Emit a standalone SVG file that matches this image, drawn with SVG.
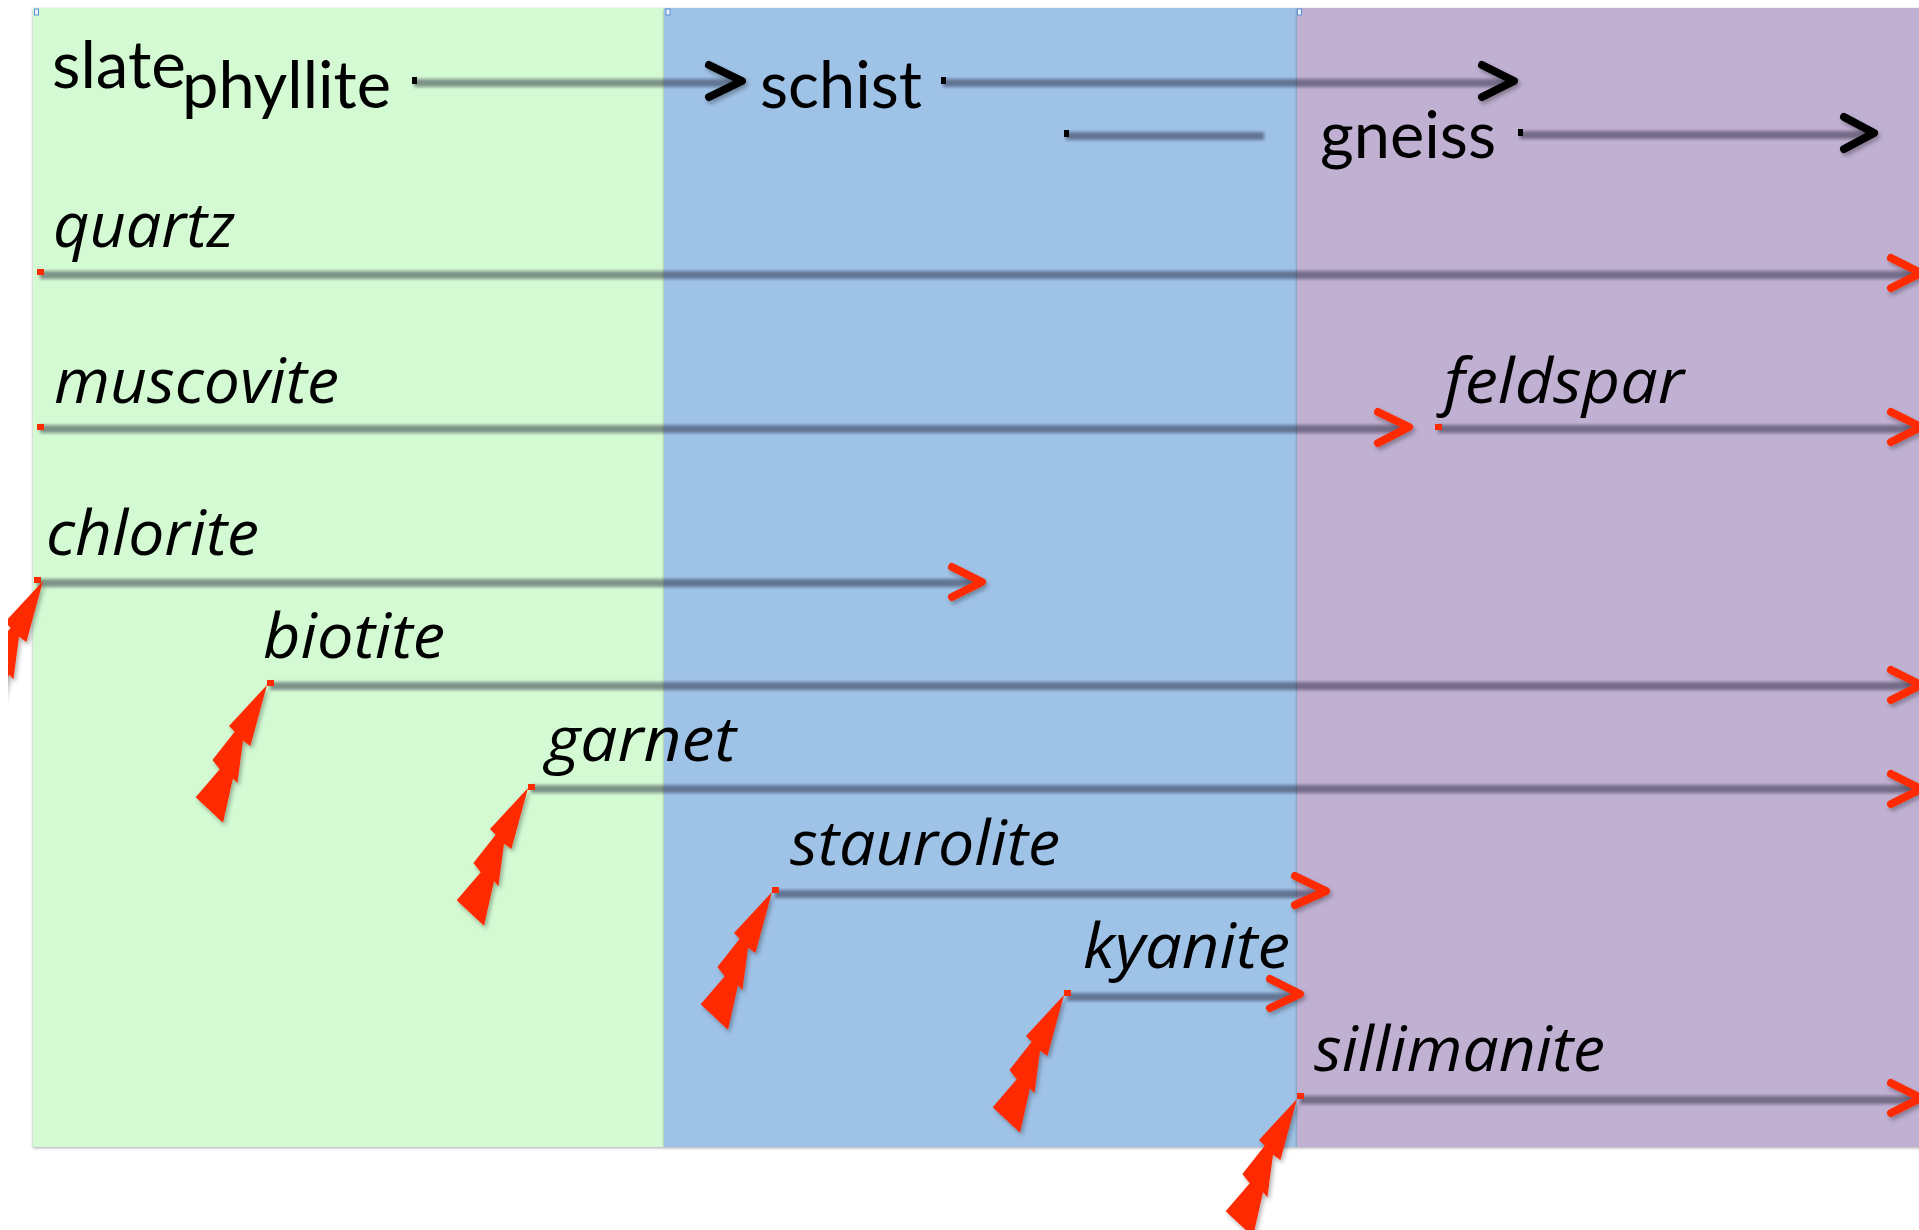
<svg xmlns="http://www.w3.org/2000/svg" width="1919" height="1230" viewBox="0 0 1919 1230">
<style>
.up{font-family:Lato,"Open Sans","Liberation Sans",sans-serif;font-size:66px;fill:#000}
.it{font-family:"Open Sans","Noto Sans","Liberation Sans",sans-serif;font-style:italic;font-size:62px;fill:#000}
.band{stroke:#1a1a2a;stroke-opacity:0.45;stroke-width:8;fill:none}
.rch{stroke:#ff2a00;stroke-width:8;fill:none;stroke-linecap:round;stroke-linejoin:round}
.bch{stroke:#000;stroke-width:8;fill:none;stroke-linecap:round;stroke-linejoin:round}
.rdot{fill:#ff2a00}
.bdot{fill:#000}
.bolt{fill:#ff2a00}
.handle{fill:#eef4fc;stroke:#5b8fd0;stroke-width:1}
</style>
<defs>
<filter id="rectSh" filterUnits="userSpaceOnUse" x="-20" y="-20" width="1960" height="1270">
<feDropShadow dx="0" dy="1" stdDeviation="1.6" flood-color="#000" flood-opacity="0.35"/>
</filter>
<filter id="blur" filterUnits="userSpaceOnUse" x="0" y="0" width="1919" height="1230">
<feGaussianBlur stdDeviation="1.7"/>
</filter>
<filter id="sh" filterUnits="userSpaceOnUse" x="-50" y="-50" width="2020" height="1330">
<feDropShadow dx="2" dy="3" stdDeviation="2" flood-color="#000" flood-opacity="0.3"/>
</filter>
<clipPath id="leftClip"><rect x="8" y="0" width="1911" height="1230"/></clipPath>
</defs>
<rect width="1919" height="1230" fill="#fff"/>

<g id="zones">
<rect id="zone-green" x="33" y="8" width="631" height="1139" fill="#d3fad3" filter="url(#rectSh)"/>
<rect id="zone-blue" x="664" y="8" width="633" height="1139" fill="#9fc2e7" filter="url(#rectSh)"/>
<rect id="zone-purple" x="1297" y="8" width="640" height="1139" fill="#c0b0d2" filter="url(#rectSh)"/>
<rect class="handle" x="34.5" y="9" width="4" height="6"/>
<rect class="handle" x="666" y="9" width="4" height="6"/>
<rect class="handle" x="1297.5" y="9" width="4" height="6"/>
</g>

<g id="connectors">
<g filter="url(#blur)">
<path class="band" d="M414,83 H738"/>
<path class="band" d="M943,83 H1510"/>
<path class="band" d="M1066,136 H1264"/>
<path class="band" d="M1520,135 H1870"/>
<path class="band" d="M40,275 H1915"/>
<path class="band" d="M40,429 H1405"/>
<path class="band" d="M1438,429 H1915"/>
<path class="band" d="M37,583 H978"/>
<path class="band" d="M270,686 H1915"/>
<path class="band" d="M531,789 H1915"/>
<path class="band" d="M775,894 H1322"/>
<path class="band" d="M1067,997 H1296"/>
<path class="band" d="M1300,1100 H1915"/>
</g>
<g filter="url(#sh)">
<path class="bch" d="M709,65 L742,81 L709,97"/>
<path class="bch" d="M1482,65 L1514,81 L1482,97"/>
<path class="bch" d="M1844,117 L1874,133 L1844,149"/>
<path class="rch" d="M1891,258 L1921,273 L1891,288"/>
<path class="rch" d="M1378,412 L1409,427 L1378,443"/>
<path class="rch" d="M1891,412 L1921,427 L1891,442"/>
<path class="rch" d="M952,567 L982,582 L952,597"/>
<path class="rch" d="M1891,670 L1921,685 L1891,700"/>
<path class="rch" d="M1891,774 L1921,789 L1891,804"/>
<path class="rch" d="M1295,876 L1326,891 L1295,905"/>
<path class="rch" d="M1270,979 L1300,994 L1270,1008"/>
<path class="rch" d="M1891,1083 L1921,1098 L1891,1113"/>
</g>
<rect class="bdot" x="412" y="77" width="5" height="7"/>
<rect class="bdot" x="941" y="77" width="5" height="7"/>
<rect class="bdot" x="1064" y="130" width="5" height="7"/>
<rect class="bdot" x="1518" y="129" width="5" height="7"/>
</g>

<g id="top-row">
<g id="n-slate"><text class="up" x="52" y="88" textLength="134" lengthAdjust="spacingAndGlyphs">slate</text></g>
<g id="n-phyllite"><text class="up" x="182" y="108" textLength="209" lengthAdjust="spacingAndGlyphs">phyllite</text></g>
<g id="n-schist"><text class="up" x="760" y="108" textLength="162" lengthAdjust="spacingAndGlyphs">schist</text></g>
<g id="n-gneiss"><text class="up" x="1320" y="158" textLength="176" lengthAdjust="spacingAndGlyphs">gneiss</text></g>
</g>

<g id="n-quartz">
<text class="it" x="53" y="247" textLength="182" lengthAdjust="spacingAndGlyphs">quartz</text>
<rect class="rdot" x="37" y="269" width="7" height="6"/>
</g>
<g id="n-muscovite">
<text class="it" x="54" y="403" textLength="285" lengthAdjust="spacingAndGlyphs">muscovite</text>
<rect class="rdot" x="37" y="424" width="7" height="6"/>
</g>
<g id="n-feldspar">
<text class="it" x="1444" y="403" textLength="240" lengthAdjust="spacingAndGlyphs">feldspar</text>
<rect class="rdot" x="1435" y="424" width="7" height="6"/>
</g>
<g id="n-chlorite">
<g clip-path="url(#leftClip)"><g filter="url(#sh)"><polygon class="bolt" transform="translate(43,581)" points="0,0 -16.6,61 -24,55.7 -29.6,98.3 -34,93.3 -44,137.7 -71.3,112.3 -47.3,84.3 -54.6,75 -32.3,46.7 -38,41"/></g></g>
<text class="it" x="46" y="555" textLength="213" lengthAdjust="spacingAndGlyphs">chlorite</text>
<rect class="rdot" x="34" y="577" width="7" height="6"/>
</g>
<g id="n-biotite">
<g filter="url(#sh)"><polygon class="bolt" transform="translate(267,685)" points="0,0 -16.6,61 -24,55.7 -29.6,98.3 -34,93.3 -44,137.7 -71.3,112.3 -47.3,84.3 -54.6,75 -32.3,46.7 -38,41"/></g>
<text class="it" x="263" y="658" textLength="182" lengthAdjust="spacingAndGlyphs">biotite</text>
<rect class="rdot" x="267" y="680" width="7" height="6"/>
</g>
<g id="n-garnet">
<g filter="url(#sh)"><polygon class="bolt" transform="translate(528,788)" points="0,0 -16.6,61 -24,55.7 -29.6,98.3 -34,93.3 -44,137.7 -71.3,112.3 -47.3,84.3 -54.6,75 -32.3,46.7 -38,41"/></g>
<text class="it" x="546" y="761" textLength="190" lengthAdjust="spacingAndGlyphs">garnet</text>
<rect class="rdot" x="528" y="784" width="7" height="6"/>
</g>
<g id="n-staurolite">
<g filter="url(#sh)"><polygon class="bolt" transform="translate(772,892)" points="0,0 -16.6,61 -24,55.7 -29.6,98.3 -34,93.3 -44,137.7 -71.3,112.3 -47.3,84.3 -54.6,75 -32.3,46.7 -38,41"/></g>
<text class="it" x="790" y="865" textLength="270" lengthAdjust="spacingAndGlyphs">staurolite</text>
<rect class="rdot" x="772" y="887" width="7" height="6"/>
</g>
<g id="n-kyanite">
<g filter="url(#sh)"><polygon class="bolt" transform="translate(1064,995)" points="0,0 -16.6,61 -24,55.7 -29.6,98.3 -34,93.3 -44,137.7 -71.3,112.3 -47.3,84.3 -54.6,75 -32.3,46.7 -38,41"/></g>
<text class="it" x="1083" y="968" textLength="207" lengthAdjust="spacingAndGlyphs">kyanite</text>
<rect class="rdot" x="1064" y="990" width="7" height="6"/>
</g>
<g id="n-sillimanite">
<g filter="url(#sh)"><polygon class="bolt" transform="translate(1297,1099)" points="0,0 -16.6,61 -24,55.7 -29.6,98.3 -34,93.3 -44,137.7 -71.3,112.3 -47.3,84.3 -54.6,75 -32.3,46.7 -38,41"/></g>
<text class="it" x="1314" y="1071" textLength="291" lengthAdjust="spacingAndGlyphs">sillimanite</text>
<rect class="rdot" x="1297" y="1093" width="7" height="6"/>
</g>
</svg>
